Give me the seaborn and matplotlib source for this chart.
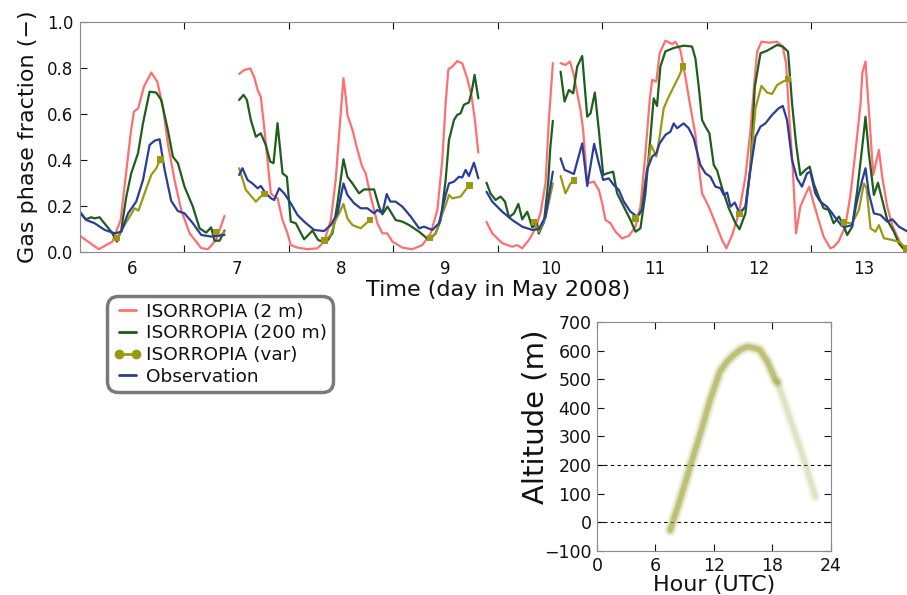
"""
Gas phase fraction from ISORROPIA runs vs observation, with the
altitude of the 'var' run over the day as an inset.
"""

import numpy as np
import pandas as pd
import matplotlib
import matplotlib.pyplot as plt
from matplotlib.lines import Line2D
import seaborn as sns

matplotlib.use('Agg')
sns.set_style("ticks")
plt.rcParams['font.family'] = ['DejaVu Sans']
for key in ['text.color', 'axes.labelcolor', 'xtick.color', 'ytick.color']:
    plt.rcParams[key] = '#111111'

# ---- data: one list per continuous piece ----
red_t = [
    [5.5, 5.68, 5.81, 5.889, 5.937, 5.985, 6.016, 6.057, 6.112, 6.182, 6.24, 6.293, 6.341,
     6.405, 6.468, 6.549, 6.66, 6.724, 6.803, 6.883],
    [7.023, 7.071, 7.128, 7.166, 7.2, 7.23, 7.262, 7.294, 7.326, 7.358, 7.39, 7.438, 7.486,
     7.517, 7.581, 7.677, 7.772, 7.836, 7.9, 7.947, 7.995, 8.021, 8.043, 8.059, 8.107, 8.155,
     8.2, 8.234, 8.282, 8.346, 8.394, 8.44, 8.49, 8.585, 8.681, 8.776, 8.856, 8.92, 8.967,
     8.999, 9.025, 9.063, 9.11, 9.158, 9.206, 9.248, 9.279, 9.312],
    [9.39, 9.445, 9.541, 9.637, 9.685, 9.732, 9.795, 9.86, 9.907, 9.955, 9.987, 10.025],
    [10.099, 10.146, 10.188, 10.226, 10.258, 10.29, 10.315, 10.354, 10.417, 10.465, 10.497,
     10.529, 10.577, 10.624, 10.688, 10.752, 10.816, 10.863, 10.911, 10.952, 10.975, 11.015,
     11.047, 11.102, 11.166, 11.198, 11.245, 11.293, 11.341, 11.389, 11.421, 11.453, 11.517,
     11.581, 11.645, 11.686, 11.741, 11.805, 11.868, 11.916, 11.958, 11.98, 12.021, 12.091,
     12.171, 12.225, 12.257, 12.289, 12.32, 12.352, 12.393, 12.441, 12.479, 12.521, 12.568,
     12.616, 12.68, 12.715, 12.759, 12.823, 12.871, 12.919, 12.97, 12.986, 13.017, 13.049,
     13.091, 13.145, 13.177, 13.225, 13.273, 13.321, 13.369, 13.43],
]
red_v = [
    [0.07, 0.012, 0.045, 0.139, 0.327, 0.516, 0.61, 0.625, 0.719, 0.78, 0.74, 0.632, 0.47,
     0.313, 0.183, 0.081, 0.017, 0.012, 0.052, 0.157],
    [0.774, 0.791, 0.798, 0.762, 0.704, 0.675, 0.545, 0.40, 0.255, 0.241, 0.234, 0.139, 0.081,
     0.03, 0.019, 0.012, 0.016, 0.045, 0.139, 0.313, 0.603, 0.755, 0.675, 0.596, 0.531, 0.444,
     0.371, 0.342, 0.241, 0.125, 0.081, 0.081, 0.045, 0.019, 0.012, 0.03, 0.081, 0.183, 0.40,
     0.646, 0.794, 0.806, 0.83, 0.82, 0.755, 0.675, 0.574, 0.432],
    [0.131, 0.081, 0.038, 0.023, 0.03, 0.016, 0.052, 0.103, 0.17, 0.30, 0.574, 0.821],
    [0.821, 0.813, 0.828, 0.77, 0.69, 0.617, 0.53, 0.298, 0.306, 0.27, 0.212,
     0.139, 0.125, 0.088, 0.059, 0.07, 0.11, 0.197, 0.429, 0.661, 0.748, 0.741,
     0.864, 0.919, 0.904, 0.914, 0.878, 0.762, 0.632, 0.51, 0.371, 0.255, 0.197,
     0.125, 0.052, 0.016, 0.074, 0.168, 0.327, 0.53, 0.762, 0.871, 0.914, 0.91,
     0.914, 0.893, 0.82, 0.574, 0.371, 0.081, 0.197, 0.248, 0.284, 0.212, 0.139,
     0.067, 0.016, 0.023, 0.045, 0.11, 0.241, 0.429, 0.646, 0.777, 0.828, 0.617,
     0.335, 0.444, 0.327, 0.197, 0.117, 0.067, 0.023, 0.009],
]

green_t = [
    [5.5, 5.554, 5.608, 5.64, 5.688, 5.72, 5.80, 5.854, 5.895, 5.943, 5.99, 6.055, 6.103,
     6.166, 6.23, 6.277, 6.341, 6.389, 6.437, 6.5, 6.58, 6.644, 6.707, 6.755, 6.788, 6.836,
     6.883],
    [7.023, 7.065, 7.097, 7.135, 7.183, 7.23, 7.278, 7.32, 7.352, 7.39, 7.438, 7.48, 7.517,
     7.565, 7.645, 7.725, 7.779, 7.853, 7.916, 7.964, 8.021, 8.059, 8.107, 8.17, 8.218, 8.314,
     8.362, 8.394, 8.442, 8.473, 8.52, 8.585, 8.65, 8.745, 8.84, 8.904, 8.952, 8.999, 9.031,
     9.079, 9.11, 9.142, 9.174, 9.222, 9.248, 9.276, 9.312],
    [9.39, 9.428, 9.477, 9.525, 9.567, 9.605, 9.653, 9.695, 9.732, 9.78, 9.828, 9.875, 9.89,
     9.94, 9.98, 10.0, 10.025],
    [10.099, 10.137, 10.178, 10.22, 10.258, 10.306, 10.354, 10.386, 10.427, 10.465, 10.507,
     10.545, 10.602, 10.64, 10.704, 10.768, 10.816, 10.863, 10.911, 10.959, 10.99, 11.022,
     11.054, 11.102, 11.182, 11.277, 11.357, 11.389, 11.421, 11.453, 11.485, 11.523, 11.565,
     11.597, 11.645, 11.709, 11.773, 11.811, 11.868, 11.916, 11.958, 12.012, 12.075, 12.171,
     12.225, 12.276, 12.314, 12.352, 12.393, 12.441, 12.483, 12.521, 12.568, 12.616, 12.664,
     12.712, 12.763, 12.804, 12.842, 12.89, 12.938, 12.986, 13.017, 13.049, 13.097, 13.136,
     13.177, 13.225, 13.289, 13.337, 13.384, 13.43],
]
green_v = [
    [0.17, 0.142, 0.151, 0.146, 0.151, 0.132, 0.088, 0.045, 0.096, 0.24, 0.342, 0.429, 0.56,
     0.697, 0.693, 0.661, 0.53, 0.414, 0.386, 0.284, 0.197, 0.103, 0.084, 0.107, 0.049, 0.049,
     0.093],
    [0.661, 0.683, 0.661, 0.574, 0.501, 0.516, 0.465, 0.393, 0.386, 0.56, 0.342, 0.327, 0.132,
     0.125, 0.055, 0.093, 0.052, 0.04, 0.081, 0.212, 0.403, 0.327, 0.298, 0.255, 0.272, 0.272,
     0.197, 0.164, 0.197, 0.175, 0.139, 0.132, 0.117, 0.088, 0.052, 0.081, 0.139, 0.313, 0.487,
     0.574, 0.596, 0.603, 0.64, 0.65, 0.697, 0.77, 0.668],
    [0.301, 0.255, 0.226, 0.241, 0.219, 0.151, 0.168, 0.209, 0.142, 0.175, 0.107, 0.122, 0.08,
     0.13, 0.30, 0.45, 0.57],
    [0.784, 0.654, 0.704, 0.69, 0.806, 0.852, 0.588, 0.603, 0.693, 0.53, 0.335,
     0.342, 0.349, 0.255, 0.197, 0.139, 0.088, 0.103, 0.255, 0.501, 0.668, 0.635,
     0.806, 0.872, 0.887, 0.897, 0.893, 0.842, 0.719, 0.574, 0.545, 0.516, 0.378,
     0.354, 0.277, 0.19, 0.125, 0.099, 0.168, 0.371, 0.719, 0.864, 0.875, 0.90,
     0.893, 0.871, 0.646, 0.472, 0.335, 0.357, 0.371, 0.298, 0.241, 0.19, 0.183,
     0.125, 0.154, 0.117, 0.074, 0.11, 0.269, 0.458, 0.588, 0.429, 0.248, 0.301,
     0.226, 0.139, 0.088, 0.037, 0.012, 0.009],
]

var_t = [
    [5.854, 5.937, 6.023, 6.06, 6.118, 6.182, 6.23, 6.268],
    [6.803, 6.84, 6.883],
    [7.023, 7.087, 7.183, 7.23, 7.265],
    [7.84, 7.9, 7.947, 7.98, 8.021, 8.059, 8.107, 8.186, 8.273],
    [8.85, 8.904, 8.952, 8.999, 9.031, 9.063, 9.142, 9.19, 9.228],
    [9.844, 9.89, 9.955, 10.025],
    [10.099, 10.146, 10.194, 10.226],
    [10.816, 10.863, 10.911, 10.965, 11.015, 11.047, 11.086, 11.134, 11.182, 11.23, 11.271],
    [11.811, 11.868, 11.916, 11.964, 12.021, 12.075, 12.123, 12.171, 12.225, 12.276],
    [12.811, 12.89, 12.954, 13.001, 13.027, 13.065, 13.113, 13.145, 13.193, 13.273, 13.337,
     13.41],
]
var_v = [
    [0.06, 0.125, 0.19, 0.18, 0.255, 0.335, 0.364, 0.403],
    [0.086, 0.07, 0.088],
    [0.364, 0.27, 0.219, 0.241, 0.252],
    [0.049, 0.074, 0.139, 0.168, 0.209, 0.146, 0.117, 0.103, 0.139],
    [0.06, 0.081, 0.146, 0.204, 0.248, 0.233, 0.241, 0.27, 0.29],
    [0.131, 0.088, 0.15, 0.298],
    [0.33, 0.255, 0.298, 0.31],
    [0.146, 0.168, 0.313, 0.465, 0.415, 0.501, 0.625, 0.675, 0.719, 0.762, 0.806],
    [0.165, 0.197, 0.371, 0.625, 0.722, 0.693, 0.687, 0.726, 0.74, 0.751],
    [0.128, 0.125, 0.183, 0.298, 0.277, 0.103, 0.088, 0.117, 0.06, 0.052, 0.045, 0.015],
]
# which ends of each var piece carry a marker (start, end)
var_marks = [(1, 1), (1, 0), (0, 1), (1, 1), (1, 1), (1, 0), (0, 1), (1, 1), (1, 1), (1, 1)]

obs_t = [
    [5.5, 5.56, 5.64, 5.736, 5.832, 5.895, 5.96, 6.038, 6.103, 6.166, 6.214, 6.262, 6.31,
     6.373, 6.437, 6.5, 6.58, 6.66, 6.755, 6.883],
    [7.023, 7.055, 7.103, 7.15, 7.2, 7.23, 7.278, 7.326, 7.358, 7.406, 7.454, 7.517, 7.581,
     7.645, 7.74, 7.836, 7.9, 7.964, 8.021, 8.059, 8.123, 8.186, 8.25, 8.314, 8.346, 8.394,
     8.435, 8.47, 8.52, 8.585, 8.665, 8.745, 8.792, 8.872, 8.936, 8.999, 9.031, 9.079, 9.126,
     9.158, 9.19, 9.222, 9.27, 9.312],
    [9.39, 9.445, 9.541, 9.637, 9.732, 9.828, 9.89, 9.955, 10.025],
    [10.099, 10.137, 10.178, 10.226, 10.306, 10.354, 10.42, 10.465, 10.507, 10.56, 10.608,
     10.656, 10.704, 10.768, 10.832, 10.879, 10.927, 10.975, 11.015, 11.047, 11.102, 11.15,
     11.182, 11.214, 11.277, 11.325, 11.373, 11.437, 11.485, 11.533, 11.581, 11.629, 11.661,
     11.693, 11.725, 11.766, 11.811, 11.868, 11.916, 11.964, 12.012, 12.059, 12.123, 12.187,
     12.225, 12.266, 12.314, 12.362, 12.409, 12.457, 12.489, 12.536, 12.584, 12.648, 12.699,
     12.744, 12.791, 12.827, 12.89, 12.938, 12.986, 13.017, 13.049, 13.097, 13.161, 13.225,
     13.273, 13.337, 13.43],
]
obs_v = [
    [0.175, 0.139, 0.125, 0.096, 0.081, 0.088, 0.168, 0.219, 0.313, 0.465, 0.484, 0.49, 0.357,
     0.222, 0.178, 0.168, 0.125, 0.074, 0.067, 0.074],
    [0.335, 0.364, 0.313, 0.298, 0.277, 0.287, 0.255, 0.234, 0.226, 0.277, 0.255, 0.212, 0.161,
     0.132, 0.096, 0.091, 0.117, 0.168, 0.298, 0.248, 0.212, 0.19, 0.19, 0.168, 0.183, 0.168,
     0.252, 0.219, 0.219, 0.197, 0.154, 0.103, 0.11, 0.096, 0.125, 0.248, 0.298, 0.306, 0.327,
     0.324, 0.357, 0.33, 0.388, 0.32],
    [0.262, 0.219, 0.175, 0.139, 0.11, 0.096, 0.099, 0.154, 0.349],
    [0.407, 0.357, 0.349, 0.339, 0.472, 0.287, 0.47, 0.386, 0.313, 0.32, 0.291,
     0.27, 0.219, 0.175, 0.154, 0.183, 0.357, 0.415, 0.429, 0.472, 0.509, 0.523,
     0.559, 0.538, 0.559, 0.538, 0.494, 0.378, 0.342, 0.327, 0.284, 0.277, 0.248,
     0.258, 0.197, 0.215, 0.168, 0.197, 0.357, 0.501, 0.545, 0.559, 0.596, 0.625,
     0.635, 0.574, 0.40, 0.32, 0.284, 0.342, 0.349, 0.255, 0.219, 0.197, 0.168,
     0.139, 0.113, 0.11, 0.117, 0.226, 0.313, 0.364, 0.255, 0.168, 0.161, 0.132,
     0.142, 0.11, 0.086],
]

# inset: altitude of the 'var' box over the day
hour = [7.5, 8.5, 9.6, 10.6, 11.6, 12.6, 13.3, 14.0, 14.7, 15.4, 16.0, 16.7, 17.5, 18.3, 18.5,
        19.5, 20.8, 22.4]
altitude = [-28, 77, 200, 310, 427, 526, 560, 584, 603, 613, 610, 602, 560, 497, 490,
            392, 264, 89]
fade_from = 18.5

c_red, c_green, c_var, c_obs = '#ff6f6f', '#1d5e1d', '#999a10', '#2b3d9c'
c_alt = '#9ea63a'


def pieces(ts, vs):
    rows = []
    for k, (t, v) in enumerate(zip(ts, vs)):
        rows += [(ti, vi, k) for ti, vi in zip(t, v)]
    return pd.DataFrame(rows, columns=['day', 'frac', 'seg'])


fig = plt.figure(figsize=(9.07, 5.95), dpi=100)
ax = fig.add_axes([0.0882, 0.5765, 0.9217, 0.3866])

for ts, vs, col in [(red_t, red_v, c_red), (green_t, green_v, c_green),
                    (var_t, var_v, c_var), (obs_t, obs_v, c_obs)]:
    sns.lineplot(data=pieces(ts, vs), x='day', y='frac', units='seg', estimator=None,
                 sort=False, color=col, lw=1.6, ax=ax, legend=False)
    if ts is var_t:
        mk = [(t[i], v[i]) for t, v, m in zip(var_t, var_v, var_marks)
              for i, on in zip((0, -1), m) if on]
        mk = pd.DataFrame(mk, columns=['day', 'frac'])
        sns.scatterplot(data=mk, x='day', y='frac', color=c_var, marker='s', s=22,
                        edgecolor='none', ax=ax, zorder=3)

ax.set_xlim(5.5, 13.5)
ax.set_ylim(0, 1)
ax.set_xticks(np.arange(6.5, 14, 1))
ax.set_xticklabels([])
ax.set_xticks(np.arange(6, 14), minor=True)
ax.set_xticklabels([str(d) for d in range(6, 14)], minor=True, fontsize=12)
ax.tick_params(axis='x', which='major', direction='in', length=5, top=True, bottom=True)
ax.tick_params(axis='x', which='minor', length=0, pad=6)
ax.set_yticks(np.arange(0, 1.01, 0.2))
ax.set_yticklabels([f'{y:.1f}' for y in np.arange(0, 1.01, 0.2)], fontsize=12)
ax.tick_params(axis='y', direction='in', length=5, pad=5)
for s in ax.spines.values():
    s.set_color('#8a8a8a')
ax.set_xlabel('Time (day in May 2008)', fontsize=16, labelpad=1)
ax.set_ylabel('Gas phase fraction (\u2212)', fontsize=16, labelpad=6)

handles = [Line2D([], [], color=c_red, lw=2),
           Line2D([], [], color=c_green, lw=2),
           Line2D([], [], color=c_var, lw=2, marker='o', ms=6),
           Line2D([], [], color=c_obs, lw=2)]
labels = ['ISORROPIA (2 m)', 'ISORROPIA (200 m)', 'ISORROPIA (var)', 'Observation']
leg = fig.legend(handles, labels, loc='upper left', bbox_to_anchor=(0.118, 0.502),
                 fontsize=13.3, frameon=True, fancybox=True, framealpha=1,
                 edgecolor='#7a7a7a', handlelength=1.5, handletextpad=0.25,
                 labelspacing=0.2, borderpad=0.35, borderaxespad=0, numpoints=2)
leg.get_frame().set_linewidth(2.5)
leg.get_frame().set_boxstyle('round,pad=0,rounding_size=0.6')

# inset
ax2 = fig.add_axes([0.6582, 0.074, 0.258, 0.385])
ax2.axhline(0, color='k', ls='--', lw=0.8, dashes=(3, 3))
ax2.axhline(200, color='k', ls='--', lw=0.8, dashes=(3, 3))
alt = pd.DataFrame({'hour': hour, 'alt': altitude})
head = alt[alt.hour <= fade_from]
tail = alt[alt.hour >= fade_from]
for lw, a in [(9, 0.10), (7, 0.15), (5, 0.25), (3.5, 0.45)]:
    sns.lineplot(data=head, x='hour', y='alt', sort=False, color=c_alt, lw=lw, alpha=a,
                 ax=ax2, legend=False, solid_capstyle='round')
    sns.lineplot(data=tail, x='hour', y='alt', sort=False, color=c_alt, lw=lw, alpha=a * 0.35,
                 ax=ax2, legend=False, solid_capstyle='round')
ax2.set_xlim(0, 24)
ax2.set_ylim(-100, 700)
ax2.set_xticks([0, 6, 12, 18, 24])
ax2.set_yticks(np.arange(-100, 701, 100))
ax2.tick_params(direction='in', length=5, labelsize=12.5, right=True, top=True, pad=4)
for s in ax2.spines.values():
    s.set_color('#8a8a8a')
ax2.set_xlabel('Hour (UTC)', fontsize=16, labelpad=0)
ax2.set_ylabel('Altitude (m)', fontsize=21)
ax2.yaxis.set_label_coords(-0.205, 0.585)

plt.savefig('out.png', dpi=100)
